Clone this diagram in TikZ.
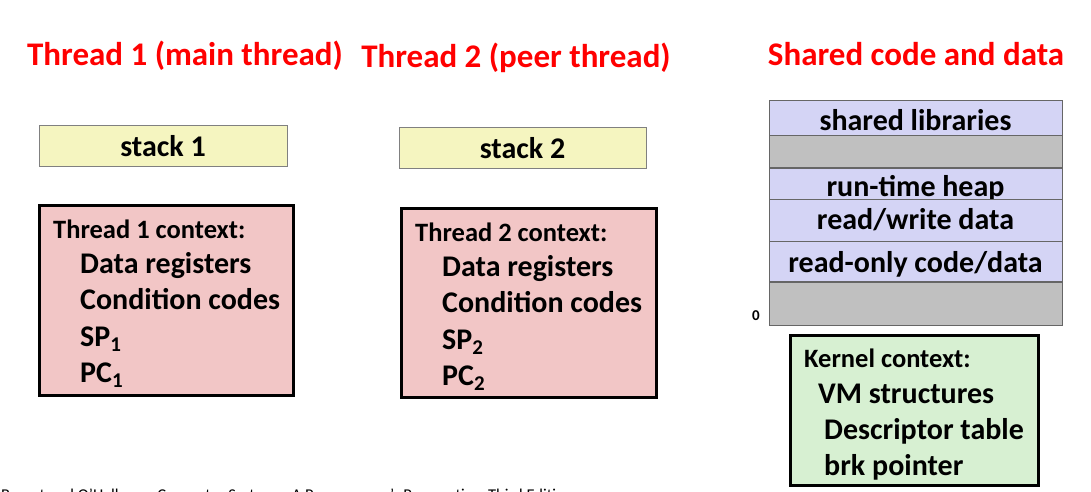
\documentclass[tikz,border=0pt]{standalone}
\usepackage{fontspec}
\setmainfont{Carlito}
\usetikzlibrary{positioning}
\definecolor{titlered}{rgb}{1,0,0}
\definecolor{stackc}{RGB}{245,245,192}
\definecolor{ctxc}{RGB}{242,198,198}
\definecolor{memc}{RGB}{212,212,245}
\definecolor{gapc}{RGB}{192,192,192}
\definecolor{kernc}{RGB}{215,240,210}

\begin{document}
\begin{tikzpicture}[x=1pt, y=-1pt,
  title/.style={text=titlered, font=\fontsize{33}{40}\selectfont\bfseries, inner sep=0pt},
  stackbox/.style={rectangle, draw=gray, fill=stackc, minimum width=248pt, minimum height=41pt, inner sep=0pt, text height=24pt, text depth=2pt, font=\fontsize{30}{36}\selectfont\bfseries},
  ctxbox/.style={rectangle, draw, line width=3pt, inner sep=0pt},
  head/.style={anchor=base west, inner sep=0pt, font=\fontsize{26.5}{32}\selectfont\bfseries},
  item/.style={anchor=base west, inner sep=0pt, font=\fontsize{30}{36}\selectfont\bfseries},
  memrow/.style={rectangle, draw=black!60, fill=memc, minimum width=293pt, inner sep=0pt, text height=22pt, text depth=4pt, font=\fontsize{30}{36}\selectfont\bfseries},
  gaprow/.style={memrow, fill=gapc}]

  \useasboundingbox (0,0) rectangle (1091,492);

  \node[title] (title1) at (185,56) {Thread 1 (main thread)};
  \node[title] (title2) at (516,58) {Thread 2 (peer thread)};
  \node[title] (title3) at (916,54) {Shared code and data};

  \node[stackbox] (stack1) at (163,145.5) {stack 1};
  \node[stackbox, minimum width=247pt] (stack2) at (522.5,147.5) {stack 2};

  \node[ctxbox, fill=ctxc, minimum width=254pt, minimum height=190pt] (ctx1) at (166,300) {};
  \node[head] (ctx1head) at (53,238) {Thread 1 context:};
  \node[item] (ctx1data) at (80,273) {Data registers};
  \node[item] (ctx1cc) at (80,309) {Condition codes};
  \node[item] (ctx1sp) at (80,346) {SP\textsubscript{1}};
  \node[item] (ctx1pc) at (80,382) {PC\textsubscript{1}};

  \node[ctxbox, fill=ctxc, minimum width=255pt, minimum height=189pt] (ctx2) at (528.5,302.5) {};
  \node[head] (ctx2head) at (415,241) {Thread 2 context:};
  \node[item] (ctx2data) at (442,276) {Data registers};
  \node[item] (ctx2cc) at (442,312) {Condition codes};
  \node[item] (ctx2sp) at (442,349) {SP\textsubscript{2}};
  \node[item] (ctx2pc) at (442,385) {PC\textsubscript{2}};

  \node[memrow, minimum height=35pt, text height=29pt, text depth=2pt] (libs) at (915.5,117.5) {shared libraries};
  \node[gaprow, minimum height=32pt, below=0pt of libs] (gap1) {};
  \node[memrow, minimum height=31pt, text height=29pt, text depth=2pt, below=0pt of gap1] (heap) {run-time heap};
  \node[memrow, minimum height=42pt, below=0pt of heap] (rwdata) {read/write data};
  \node[memrow, minimum height=40pt, text height=24pt, text depth=2pt, below=0pt of rwdata] (rocode) {read-only code/data};
  \node[gaprow, minimum height=43pt, below=0pt of rocode] (gap2) {};
  \node[inner sep=0pt, font=\fontsize{15}{18}\selectfont\bfseries] (zero) at (756,316) {0};

  \node[ctxbox, fill=kernc, minimum width=248pt, minimum height=150pt] (kern) at (914,410) {};
  \node[head] (kernhead) at (804,367) {Kernel context:};
  \node[item] (kernvm) at (818,403) {VM structures};
  \node[item] (kerndesc) at (824,439) {Descriptor table};
  \node[item] (kernbrk) at (824,475) {brk pointer};

  \node[anchor=base west, inner sep=0pt, font=\fontsize{16.5}{20}\selectfont] (foot) at (1,500) {Bryant and O'Hallaron, Computer Systems: A Programmer's Perspective, Third Edition};

\end{tikzpicture}
\end{document}
